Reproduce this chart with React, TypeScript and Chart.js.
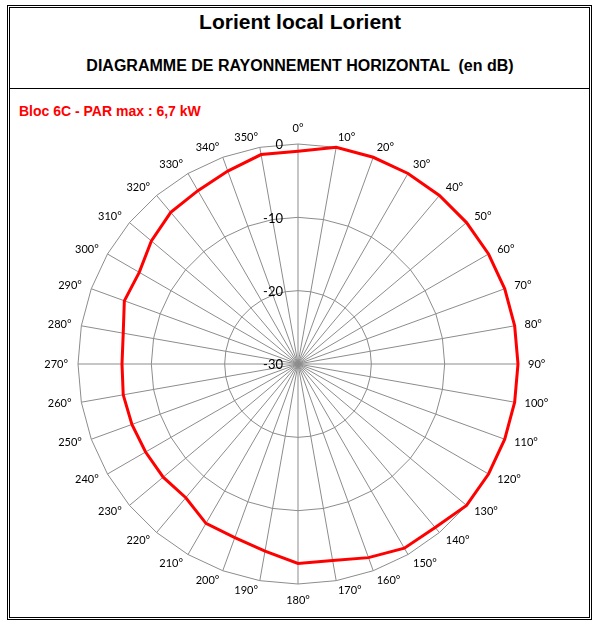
import { useEffect, useRef } from "react"
import { Chart, registerables } from "chart.js"

Chart.register(...registerables)

// azimuths every 10 degrees, clockwise from north
const angles = [
  0, 10, 20, 30, 40, 50, 60, 70, 80, 90, 100, 110,
  120, 130, 140, 150, 160, 170, 180, 190, 200, 210, 220, 230,
  240, 250, 260, 270, 280, 290, 300, 310, 320, 330, 340, 350,
]

// relative attenuation in dB
const attenuation = [
  -1.0, 0, 0, 0, 0, 0, 0, 0, 0, 0, 0, 0,
  0, 0, -0.9, -1.0, -1.9, -2.8, -2.8, -4.1, -4.8, -4.9, -6.2, -6.0,
  -6.0, -5.9, -5.8, -6.0, -5.8, -4.8, -5.0, -3.9, -3.0, -2.7, -2.0, -1.0,
]

const tickValues = [-30, -20, -10, 0]

// radial tick labels drawn left of the north axis, like the original sheet
const tickLabelPlugin = {
  id: "tickLabels",
  afterDatasetsDraw(chart: any) {
    const scale = chart.scales.r
    const ctx = chart.ctx
    ctx.save()
    ctx.font = "13px Lato"
    ctx.fillStyle = "#000"
    ctx.textAlign = "right"
    ctx.textBaseline = "middle"
    tickValues.forEach((v) => {
      const d = scale.getDistanceFromCenterForValue(v)
      ctx.fillText(String(v), scale.xCenter - 15, scale.yCenter - d + 1)
    })
    ctx.restore()
  },
}

// angle labels: anchored by side and vertically centred on the anchor (Excel style)
const angleLabelPlugin = {
  id: "angleLabels",
  afterDraw(chart: any) {
    const scale = chart.scales.r
    const ctx = chart.ctx
    const labels = chart.data.labels as string[]
    ctx.save()
    ctx.font = "11px Lato"
    ctx.fillStyle = "#000"
    labels.forEach((text, i) => {
      const pos = scale.getPointPosition(i, scale.drawingArea + 10)
      const dx = pos.x - scale.xCenter
      if (Math.abs(dx) < 1) {
        ctx.textAlign = "center"
        ctx.textBaseline = "alphabetic"
        const y = pos.y < scale.yCenter ? pos.y - 2 : pos.y + 10
        ctx.fillText(text, pos.x, y)
      } else {
        ctx.textAlign = dx > 0 ? "left" : "right"
        ctx.textBaseline = "middle"
        ctx.fillText(text, pos.x, pos.y)
      }
    })
    ctx.restore()
  },
}

function RadiationChart() {
  const canvasRef = useRef<HTMLCanvasElement>(null)

  useEffect(() => {
    if (!canvasRef.current) return
    const chart = new Chart(canvasRef.current, {
      type: "radar",
      data: {
        labels: angles.map((a) => a + "°"),
        datasets: [
          {
            label: "Bloc 6C",
            data: attenuation,
            borderColor: "#ff0000",
            borderWidth: 3,
            pointRadius: 0,
            fill: false,
            tension: 0,
          },
        ],
      },
      options: {
        responsive: false,
        animation: false,
        layout: { padding: 22 },
        plugins: {
          legend: { display: false },
          tooltip: { enabled: false },
        },
        scales: {
          r: {
            min: -30,
            max: 0,
            ticks: { stepSize: 10, display: false },
            grid: { color: "#8c8c8c", lineWidth: 1 },
            angleLines: { color: "#8c8c8c", lineWidth: 1 },
            pointLabels: { display: false },
          },
        },
      },
      plugins: [tickLabelPlugin, angleLabelPlugin],
    })
    return () => chart.destroy()
  }, [])

  return (
    <canvas
      ref={canvasRef}
      width={560}
      height={484}
      style={{ position: "absolute", left: 18, top: 122, width: 560, height: 484 }}
    />
  )
}

export default function App() {
  return (
    <div
      style={{
        position: "absolute",
        left: 0,
        top: 0,
        width: 593,
        height: 622,
        background: "#fff",
        fontFamily: "'Liberation Sans', Arial, sans-serif",
      }}
    >
      <div
        style={{
          position: "absolute",
          left: 7,
          top: 5,
          width: 585,
          height: 615,
          boxSizing: "border-box",
          border: "3px double #000",
        }}
      />
      <div
        style={{
          position: "absolute",
          left: 10,
          top: 88,
          width: 579,
          height: 1,
          background: "#000",
        }}
      />
      <div
        style={{
          position: "absolute",
          left: 0,
          top: 10,
          width: 600,
          textAlign: "center",
          fontSize: 21,
          fontWeight: "bold",
        }}
      >
        Lorient local Lorient
      </div>
      <div
        style={{
          position: "absolute",
          left: 0,
          top: 57,
          width: 600,
          textAlign: "center",
          fontSize: 16,
          fontWeight: "bold",
          whiteSpace: "pre",
        }}
      >
        {"DIAGRAMME DE RAYONNEMENT HORIZONTAL  (en dB)"}
      </div>
      <div
        style={{
          position: "absolute",
          left: 19,
          top: 103,
          fontSize: 14,
          fontWeight: "bold",
          color: "#ff0000",
        }}
      >
        Bloc 6C - PAR max : 6,7 kW
      </div>
      <RadiationChart />
    </div>
  )
}
